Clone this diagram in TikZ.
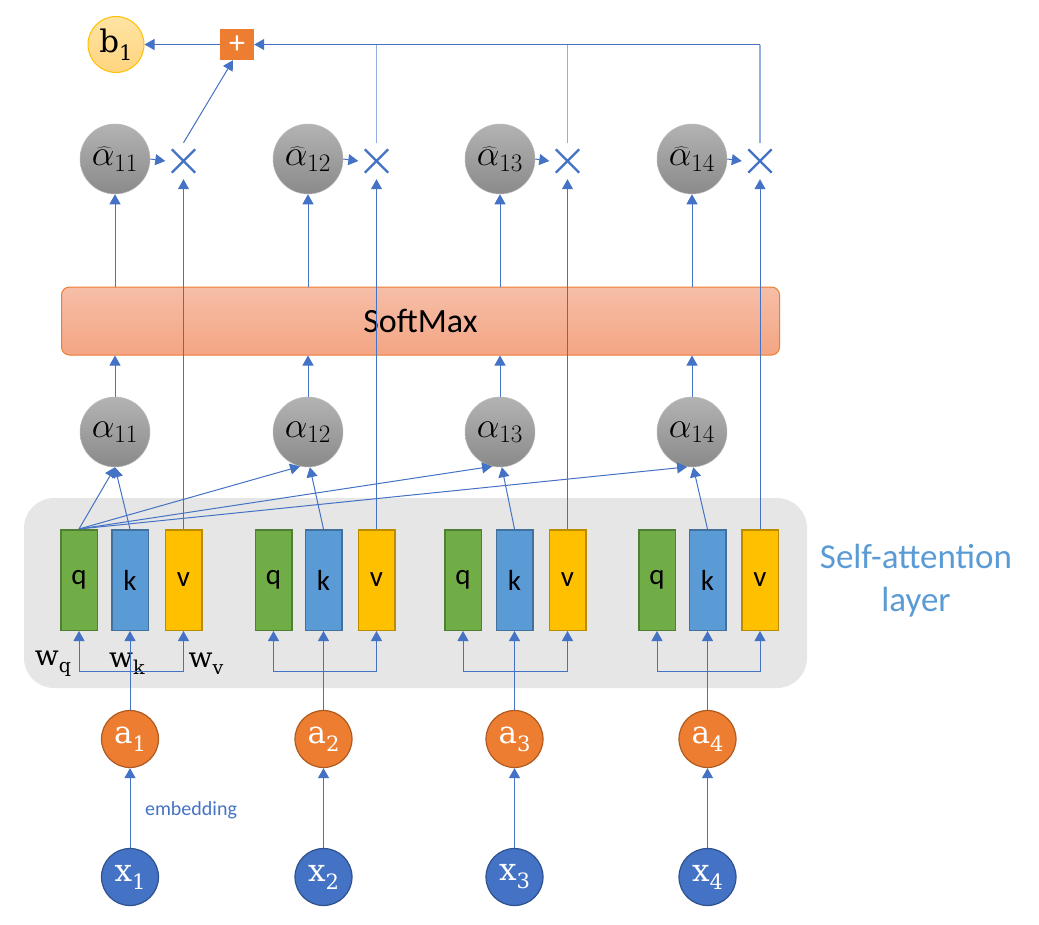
\RequirePackage{fix-cm}
\documentclass[tikz,border=0pt]{standalone}
\usepackage{graphicx}
\usepackage{fontspec}
\newfontfamily\calibri{Carlito}
\newfontfamily\labfont{DejaVu Serif}
\usetikzlibrary{arrows.meta,shapes.misc}
\newcommand\sublab[2]{{\labfont #1\raisebox{-0.26em}{\scalebox{0.68}{#2}}}}
\definecolor{lnk}{HTML}{4472C4}
\definecolor{lnkl}{HTML}{93AEDE}
\definecolor{bgc}{HTML}{E6E6E6}
\definecolor{qfill}{HTML}{70AD47}\definecolor{qbd}{HTML}{507E32}
\definecolor{kfill}{HTML}{5B9BD5}\definecolor{kbd}{HTML}{41719C}
\definecolor{vfill}{HTML}{FFC000}\definecolor{vbd}{HTML}{BC8C00}
\definecolor{afill}{HTML}{ED7D31}\definecolor{abd}{HTML}{AE5A21}
\definecolor{xfill}{HTML}{4472C4}\definecolor{xbd}{HTML}{2F528F}
\definecolor{alt}{HTML}{B3B3B3}\definecolor{alb}{HTML}{8A8A8A}
\definecolor{smt}{HTML}{F6BEA7}\definecolor{smb}{HTML}{F4A583}
\definecolor{bt}{HTML}{FFE4A3}\definecolor{bb}{HTML}{FFD47F}
\definecolor{satext}{HTML}{5B9BD5}
\tikzset{
  arr/.style={draw=lnk, line width=1pt, -{Triangle[length=10pt,width=11pt]}},
  ln/.style={draw=lnk, line width=1pt},
  lnl/.style={draw=lnkl, line width=1.2pt},
  vec/.style={line width=1.5pt, minimum width=36.5pt, minimum height=100.5pt, inner sep=0pt, font=\calibri\fontsize{29}{30}\selectfont},
  qbox/.style={vec, draw=qbd, fill=qfill},
  kbox/.style={vec, draw=kbd, fill=kfill},
  vbox/.style={vec, draw=vbd, fill=vfill},
  alc/.style={circle, draw=gray!55, line width=0.5pt, top color=alt, bottom color=alb, minimum size=70pt, inner sep=0pt, font=\fontsize{36}{38}\selectfont},
  ac/.style={circle, draw=abd, line width=1.2pt, fill=afill, minimum size=57pt, inner sep=0pt, text=white, font=\fontsize{31}{34}\selectfont},
  xc/.style={circle, draw=xbd, line width=1.2pt, fill=xfill, minimum size=57pt, inner sep=0pt, text=white, font=\fontsize{31}{34}\selectfont},
  mulc/.style={minimum size=36pt, inner sep=0pt},
  mulx/.style={cross out, draw=lnk, line width=2.4pt, minimum size=21pt, inner sep=0pt},
  wlab/.style={font=\fontsize{28}{30}\selectfont, inner sep=0pt},
}
\begin{document}
\begin{tikzpicture}[x=1pt,y=-1pt]
\useasboundingbox (0,0) rectangle (1039,924);
% background layer
\node[fill=bgc, rounded corners=30pt, minimum width=783pt, minimum height=190pt, inner sep=0pt] (bg) at (415.5,593) {};
\node[draw=afill, line width=1pt, rounded corners=8pt, top color=smt, bottom color=smb, minimum width=718pt, minimum height=68pt, font=\calibri\fontsize{34}{36}\selectfont] (sm) at (420.5,321) {SoftMax};
\node[font=\calibri\fontsize{35}{43}\selectfont, text=satext, align=center] (sa) at (916,581) {Self-attention\\layer};

% q k v boxes
\foreach \i/\qx/\kx/\vx in {1/79/130/183.5, 2/273.5/323.5/376.5, 3/463/514.5/567.5, 4/657/707.5/760}{
  \node[qbox] (q\i) at (\qx,580) {q};
  \node[kbox] (k\i) at (\kx,580) {k};
  \node[vbox] (v\i) at (\vx,580) {v};
}
% inputs
\node[ac] (a1) at (130,739) {\sublab{a}{1}};
\node[ac] (a2) at (323.5,739) {\sublab{a}{2}};
\node[ac] (a3) at (514.5,739) {\sublab{a}{3}};
\node[ac] (a4) at (707.5,739) {\sublab{a}{4}};
\node[xc] (x1) at (130,877) {\sublab{x}{1}};
\node[xc] (x2) at (323.5,877) {\sublab{x}{2}};
\node[xc] (x3) at (514.5,877) {\sublab{x}{3}};
\node[xc] (x4) at (707.5,877) {\sublab{x}{4}};
% alpha
\node[alc] (al1) at (115,432) {$\alpha_{11}$};
\node[alc] (al2) at (308,432) {$\alpha_{12}$};
\node[alc] (al3) at (500,432) {$\alpha_{13}$};
\node[alc] (al4) at (692,432) {$\alpha_{14}$};
\node[alc] (ah1) at (115,159) {$\widehat{\alpha}_{11}$};
\node[alc] (ah2) at (308,159) {$\widehat{\alpha}_{12}$};
\node[alc] (ah3) at (500,159) {$\widehat{\alpha}_{13}$};
\node[alc] (ah4) at (692,159) {$\widehat{\alpha}_{14}$};
% multiply
\node[mulc] (m1) at (183.5,161) {};
\node[mulc] (m2) at (376.5,161) {};
\node[mulc] (m3) at (567.5,161) {};
\node[mulc] (m4) at (760,161) {};
\node[mulx] (m1x) at (m1) {};
\node[mulx] (m2x) at (m2) {};
\node[mulx] (m3x) at (m3) {};
\node[mulx] (m4x) at (m4) {};
% plus and b1
\node[fill=afill, minimum width=34pt, minimum height=31pt, inner sep=0pt, text=white, font=\calibri\fontsize{32}{32}\selectfont] (plus) at (237,44.5) {+};
\node[circle, draw=vfill, line width=1pt, top color=bt, bottom color=bb, minimum size=56pt, inner sep=0pt, font=\fontsize{31}{34}\selectfont] (b1) at (116,44.5) {\sublab{b}{1}};

% w labels
\node[wlab] (wq) at (53,664) {\sublab{w}{q}};
\node[wlab] (wk) at (127,664) {\sublab{w}{k}};
\node[wlab] (wv) at (206,664) {\sublab{w}{v}};
\node[font=\calibri\fontsize{20}{22}\selectfont, text=lnk] (emb) at (191,810) {embedding};

% x -> a
\foreach \i in {1,...,4}{
  \draw[arr] (x\i.north) -- (a\i.south);
  \draw[arr] (a\i.north) -- (k\i.south);
  \coordinate (h\i) at (a\i |- 0,671);
  \draw[arr] (h\i) -| (q\i.south);
  \draw[arr] (h\i) -| (v\i.south);
  \draw[arr] (al\i.north) -- (al\i.north |- sm.south);
  \draw[arr] (ah\i.south |- sm.north) -- (ah\i.south);
  \draw[arr] (v\i.north) -- (m\i.south);
  \draw[arr] (ah\i.east) -- (m\i.west);
}
% q,k -> alpha
\draw[arr] (q1.north) -- (al1.south);
\draw[arr] (k1.north) -- (al1.south);
\draw[arr] (q1.north) -- (al2.257);
\draw[arr] (k2.north) -- (al2.273);
\draw[arr] (q1.north) -- (al3.257);
\draw[arr] (k3.north) -- (al3.273);
\draw[arr] (q1.north) -- (al4.262);
\draw[arr] (k4.north) -- (al4.272);
% weighted sum
\draw[arr] (m1.north) -- ([xshift=-4pt]plus.south);
\draw[lnl] (m2.north) -- (m2.north |- plus.east);
\draw[lnl] (m3.north) -- (m3.north |- plus.east);
\draw[lnl] (m4.north) -- (m4.north |- plus.east);
\draw[arr] (m4.north |- plus.east) -- (plus.east);
\draw[arr] (plus.west) -- (b1.east);
\end{tikzpicture}
\end{document}
